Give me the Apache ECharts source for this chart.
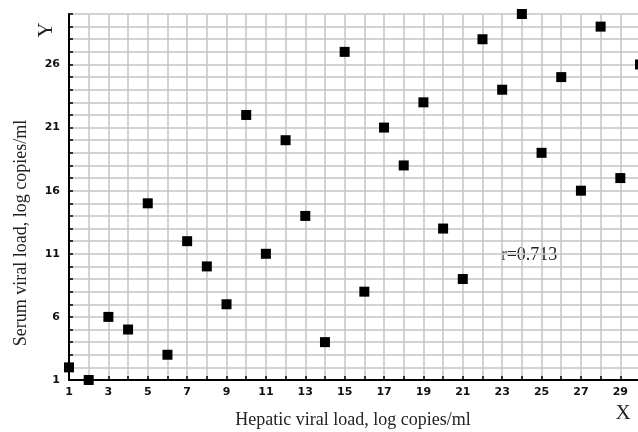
<!DOCTYPE html>
<html>
<head>
<meta charset="utf-8">
<script src="https://cdn.jsdelivr.net/npm/echarts@6/dist/echarts.min.js"></script>
<style>html,body{margin:0;padding:0;background:#fff;overflow:hidden;}#c{width:650px;height:432px;}</style>
</head>
<body>
<div id="c"></div>
<script>
const xValues = [1,2,3,4,5,6,7,8,9,10,11,12,13,14,15,16,17,18,19,20,21,22,23,24,25,26,27,28,29,30];
const yValues = [2,1,6,5,15,3,12,10,7,22,11,20,14,4,27,8,21,18,23,13,9,28,24,30,19,25,16,29,17,26];
const xTickLabels = [1,3,5,7,9,11,13,15,17,19,21,23,25,27,29];
const yTickLabels = [1,6,11,16,21,26];
const xTitle = 'Hepatic viral load, log copies/ml';
const yTitle = 'Serum viral load, log copies/ml';
const rText = 'r=0.713';

const points = xValues.map((x, i) => [x, yValues[i]]);
const chart = echarts.init(document.getElementById('c'), null, {renderer: 'canvas'});
const labelStyle = {fontFamily: 'DejaVu Sans', fontWeight: 'bold', fontSize: 11, color: '#111'};
const serif = 'Liberation Serif';
chart.setOption({
  animation: false,
  backgroundColor: '#fff',
  grid: {left: 69, top: 14, right: 10, bottom: 52},
  xAxis: {
    type: 'value', min: 1, max: 30, interval: 1,
    axisLine: {onZero: false, lineStyle: {color: '#000', width: 2}},
    axisTick: {inside: true, length: 4, lineStyle: {color: '#000', width: 1.5}},
    axisLabel: Object.assign({margin: 7, formatter: v => xTickLabels.includes(v) ? String(v) : ''}, labelStyle),
    splitLine: {show: true, lineStyle: {color: '#c4c4c4', width: 1.5}}
  },
  yAxis: {
    type: 'value', min: 1, max: 30, interval: 1,
    axisLine: {show: true, onZero: false, lineStyle: {color: '#000', width: 2}},
    axisTick: {show: true, inside: true, length: 4, lineStyle: {color: '#000', width: 1.5}},
    axisLabel: Object.assign({margin: 9, formatter: v => yTickLabels.includes(v) ? String(v) : ''}, labelStyle),
    splitLine: {show: true, lineStyle: {color: '#c4c4c4', width: 1.5}}
  },
  series: [{
    type: 'scatter', symbol: 'rect', symbolSize: 10,
    itemStyle: {color: '#000', opacity: 1},
    data: points, clip: false
  }],
  graphic: [
    {type: 'text', x: 353, y: 420, style: {text: xTitle, font: '18px "' + serif + '"', fill: '#222', align: 'center', verticalAlign: 'middle'}},
    {type: 'text', x: 21, y: 233, rotation: Math.PI / 2, style: {text: yTitle, font: '18px "' + serif + '"', fill: '#222', align: 'center', verticalAlign: 'middle'}},
    {type: 'text', x: 46, y: 30, rotation: Math.PI / 2, style: {text: 'Y', font: '21px "' + serif + '"', fill: '#222', align: 'center', verticalAlign: 'middle'}},
    {type: 'text', x: 623, y: 413, style: {text: 'X', font: '21px "' + serif + '"', fill: '#222', align: 'center', verticalAlign: 'middle'}},
    {type: 'text', x: 529, y: 255, style: {text: rText, font: '18px "' + serif + '"', fill: '#222', align: 'center', verticalAlign: 'middle'}}
  ]
});
</script>
</body>
</html>
